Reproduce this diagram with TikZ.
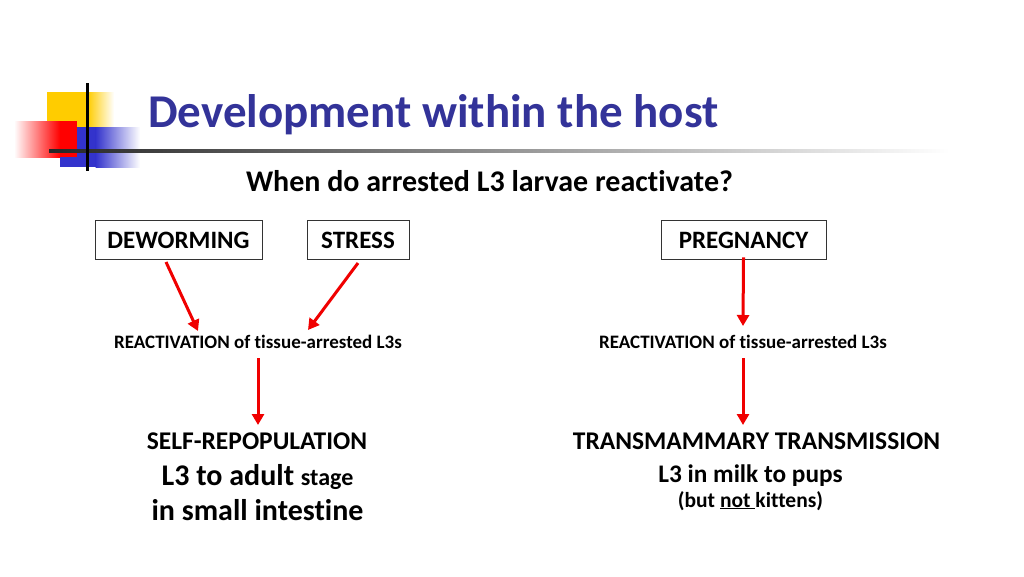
\documentclass[tikz,border=0pt]{standalone}
\usepackage{fontspec}
\setmainfont{Carlito}[Ligatures={NoCommon}]
\usetikzlibrary{arrows.meta}
\definecolor{titleblue}{RGB}{51,51,153}
\definecolor{decoyellow}{RGB}{255,204,0}
\definecolor{decoblue}{RGB}{51,51,204}
\definecolor{arrowred}{RGB}{240,0,0}
\tikzset{
  box/.style={draw=black!80, line width=0.8pt, minimum height=39pt, inner sep=0pt},
  boxtext/.style={anchor=base, inner sep=0pt, font=\fontsize{25}{28}\selectfont\bfseries},
  lbl/.style={anchor=base, inner sep=0pt, font=\bfseries},
  redarrow/.style={draw=arrowred, line width=3pt, -{Triangle[length=11pt,width=12pt]}}
}
\begin{document}
\begin{tikzpicture}[x=1pt,y=-1pt]
\useasboundingbox (0,0) rectangle (1024,576);
% decoration
\fill[decoyellow] (47,92) rectangle (88,128);
\shade[left color=decoyellow, right color=white] (87.5,92) rectangle (114,128);
\fill[decoblue] (60,127) rectangle (96,167);
\shade[left color=decoblue, right color=white] (95.5,127) rectangle (140,167);
\shade[left color=white, right color=red] (14,121) rectangle (60,157);
\fill[red] (59.5,121) rectangle (77,157);
\shade[left color=black!85, right color=white] (49,149.5) rectangle (950,152.5);
\fill[black] (86,83) rectangle (88.5,171);
% title
\node[anchor=base west, inner sep=0pt, text=titleblue, font=\fontsize{47}{50}\selectfont\bfseries] (title) at (148,127) {Development within the host};
\node[lbl, font=\fontsize{30}{34}\selectfont\bfseries] (sub) at (489.5,191) {When do arrested L3 larvae reactivate?};
% boxes
\node[box, minimum width=167pt] (dew) at (178.5,239.5) {};
\node[box, minimum width=102pt] (str) at (358,239.5) {};
\node[box, minimum width=165pt] (preg) at (743.5,239.5) {};
\node[boxtext] (dewt) at (178.5,248) {DEWORMING};
\node[boxtext] (strt) at (358,248) {STRESS};
\node[boxtext] (pregt) at (743.5,248) {PREGNANCY};
% reactivation
\node[lbl, font=\fontsize{19}{22}\selectfont\bfseries] (reL) at (258,348) {REACTIVATION of tissue-arrested L3s};
\node[lbl, font=\fontsize{19}{22}\selectfont\bfseries] (reR) at (743,348) {REACTIVATION of tissue-arrested L3s};
% outcomes left
\node[lbl, font=\fontsize{25.5}{30}\selectfont\bfseries] (sr1) at (257,449) {SELF-REPOPULATION};
\node[lbl, font=\fontsize{30}{34}\selectfont\bfseries] (sr2) at (257.5,485) {L3 to adult {\fontsize{24}{28}\selectfont stage}};
\node[lbl, font=\fontsize{30}{34}\selectfont\bfseries] (sr3) at (257.5,520) {in small intestine};
% outcomes right
\node[lbl, font=\fontsize{25.5}{30}\selectfont\bfseries] (tm1) at (756.5,449) {TRANSMAMMARY TRANSMISSION};
\node[lbl, font=\fontsize{25.3}{30}\selectfont\bfseries] (tm2) at (750.5,482) {L3 in milk to pups};
\node[lbl, font=\fontsize{21.5}{26}\selectfont\bfseries] (tm3) at (750.5,507) {(but \underline{not }kittens)};
% arrow endpoints
\coordinate (a1s) at (166,262);
\coordinate (a1e) at (198,331);
\coordinate (a2s) at (358,263);
\coordinate (a2e) at (308,330);
\coordinate (a3e) at (743,326);
\coordinate (a4s) at (258,358);
\coordinate (a4e) at (258,425);
\coordinate (a5s) at (743,358);
\coordinate (a5e) at (743,425);
\draw[redarrow] (a1s) -- (a1e);
\draw[redarrow] (a2s) -- (a2e);
\draw[redarrow] ([yshift=2pt]preg.south) -- (a3e);
\draw[redarrow] (a4s) -- (a4e);
\draw[redarrow] (a5s) -- (a5e);
\end{tikzpicture}
\end{document}
